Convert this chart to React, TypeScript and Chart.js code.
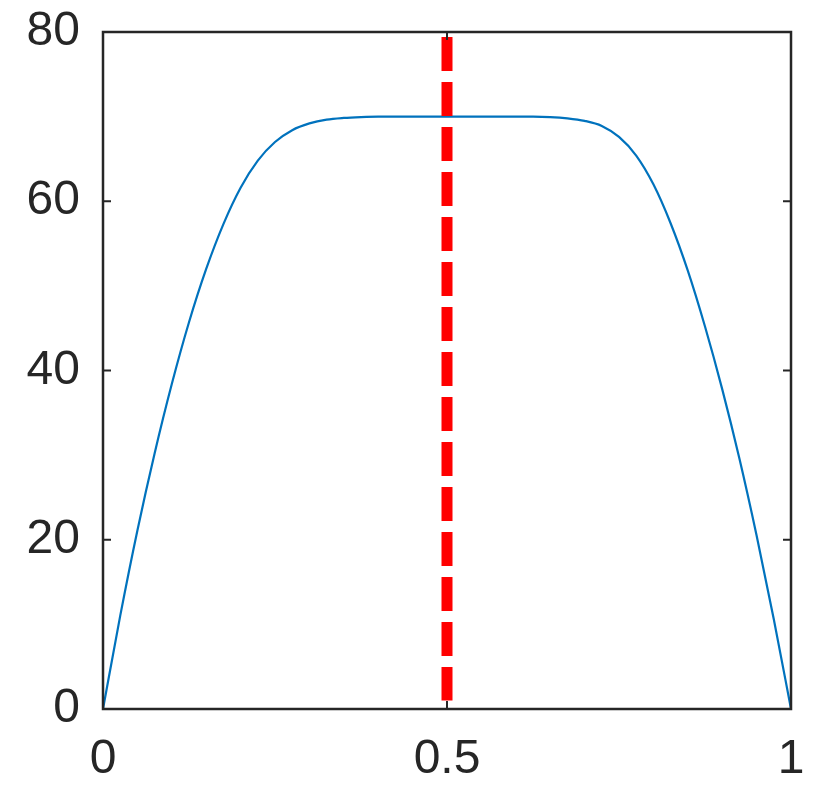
import React, { useEffect, useRef } from "react";
import { Chart, registerables } from "chart.js";

Chart.register(...registerables);

const curveX = [0, 0.025, 0.05, 0.075, 0.1, 0.125, 0.15, 0.175, 0.2, 0.225, 0.25, 0.275, 0.3, 0.325, 0.35, 0.375, 0.4, 0.45, 0.5, 0.55, 0.6, 0.625, 0.65, 0.675, 0.7, 0.725, 0.75, 0.775, 0.8, 0.825, 0.85, 0.875, 0.9, 0.925, 0.95, 0.975, 1];
const curveY = [0, 11.0, 21.1, 30.2, 38.4, 45.7, 52.0, 57.3, 61.6, 64.8, 67.0, 68.4, 69.2, 69.65, 69.85, 69.95, 70, 70, 70, 70, 70, 70, 69.95, 69.8, 69.5, 68.9, 67.6, 65.4, 62.0, 57.4, 51.8, 45.2, 37.8, 29.6, 20.5, 10.6, 0];
const markerX = [0.5, 0.5];
const markerY = [79.4, 1];
const xTicks = [0, 0.5, 1];
const yTicks = [0, 20, 40, 60, 80];

const AXIS = "#262626";
const FONT = "Liberation Sans, Arial, sans-serif";

const framePlugin = {
  id: "frame",
  afterDatasetsDraw(chart: any) {
    const { ctx, chartArea: a, scales } = chart;
    ctx.save();
    ctx.strokeStyle = AXIS;
    ctx.lineWidth = 2;
    const t = 8;
    ctx.beginPath();
    xTicks.forEach((v) => {
      const px = scales.x.getPixelForValue(v);
      ctx.moveTo(px, a.bottom);
      ctx.lineTo(px, a.bottom - t);
      ctx.moveTo(px, a.top);
      ctx.lineTo(px, a.top + t);
    });
    yTicks.forEach((v) => {
      const py = scales.y.getPixelForValue(v);
      ctx.moveTo(a.left, py);
      ctx.lineTo(a.left + t, py);
      ctx.moveTo(a.right, py);
      ctx.lineTo(a.right - t, py);
    });
    ctx.stroke();
    ctx.lineWidth = 2.5;
    ctx.strokeRect(a.left, a.top, a.right - a.left, a.bottom - a.top);
    ctx.restore();
  },
};

export default function App() {
  const ref = useRef<HTMLCanvasElement>(null);
  useEffect(() => {
    const chart = new Chart(ref.current!, {
      type: "line",
      data: {
        datasets: [
          {
            data: markerX.map((x, i) => ({ x, y: markerY[i] })),
            borderColor: "#FF0000",
            borderWidth: 11,
            borderDash: [34, 11],
            borderCapStyle: "butt",
            pointRadius: 0,
            order: 0,
          },
          {
            data: curveX.map((x, i) => ({ x, y: curveY[i] })),
            borderColor: "#0072BD",
            borderWidth: 2.2,
            pointRadius: 0,
            cubicInterpolationMode: "monotone",
            order: 1,
          },
        ],
      },
      options: {
        animation: false,
        responsive: false,
        layout: { padding: { top: 24, right: 33, left: 0, bottom: 0 } },
        plugins: { legend: { display: false }, tooltip: { enabled: false } },
        scales: {
          x: {
            type: "linear",
            min: 0,
            max: 1,
            afterBuildTicks: (s: any) => {
              s.ticks = xTicks.map((v) => ({ value: v }));
            },
            afterFit: (s: any) => {
              s.height = 83;
              s.paddingLeft = 0;
              s.paddingRight = 0;
            },
            grid: { display: false, drawTicks: false },
            border: { display: false },
            ticks: {
              color: AXIS,
              font: { family: FONT, size: 48 },
              padding: 22,
              maxRotation: 0,
              callback: (v: any) => String(v),
            },
          },
          y: {
            type: "linear",
            min: 0,
            max: 80,
            afterBuildTicks: (s: any) => {
              s.ticks = yTicks.map((v) => ({ value: v }));
            },
            afterFit: (s: any) => {
              s.width = 95;
              s.paddingTop = 0;
              s.paddingBottom = 0;
            },
            grid: { display: false, drawTicks: false },
            border: { display: false },
            ticks: {
              color: AXIS,
              font: { family: FONT, size: 48 },
              padding: 23,
              callback: (v: any) => String(v),
            },
          },
        },
      },
      plugins: [framePlugin],
    } as any);
    return () => chart.destroy();
  }, []);
  return (
    <div style={{ width: 816, height: 784 }}>
      <canvas ref={ref} width={816} height={784} style={{ display: "block" }} />
    </div>
  );
}
